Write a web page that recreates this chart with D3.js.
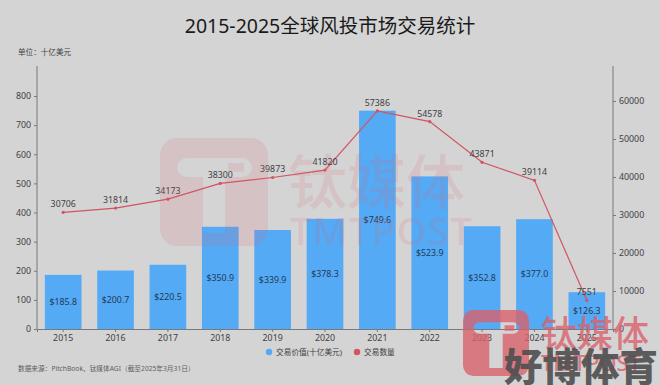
<!DOCTYPE html>
<html>
<head>
<meta charset="utf-8">
<script src="https://cdn.jsdelivr.net/npm/d3@7"></script>
<style>
    html, body { margin: 0; padding: 0; background: #d4d4d4; }
    text { font-family: "Noto Sans", "Noto Sans CJK SC", sans-serif; }
</style>
</head>
<body>
<div id="figure-holder"></div>
<script>
const years = ["2015", "2016", "2017", "2018", "2019", "2020", "2021", "2022", "2023", "2024", "2025"]
const dealValue = [185.8, 200.7, 220.5, 350.9, 339.9, 378.3, 749.6, 523.9, 352.8, 377.0, 126.3]
const dealCount = [30706, 31814, 34173, 38300, 39873, 41820, 57386, 54578, 43871, 39114, 7551]
const leftTicks = [0, 100, 200, 300, 400, 500, 600, 700, 800]
const rightTicks = [0, 10000, 20000, 30000, 40000, 50000, 60000]
const legendLabels = ["交易价值(十亿美元)", "交易数量"]

const barColor = "#55aaf5"
const lineColor = "#d2545f"
const axisColor = "#77797c"
const textColor = "#3f4144"
const markColor = "#d9626d"

const svg = d3.select("#figure-holder").append("svg")
    .attr("width", 660)
    .attr("height", 385)
    .style("display", "block")

const x = d3.scaleBand().domain(years).range([37, 613]).paddingInner(0.3).paddingOuter(0.15)
const yLeft = d3.scaleLinear().domain([0, 800]).range([329, 96])
const yRight = d3.scaleLinear().domain([0, 60000]).range([329, 101])

// title and notes
svg.append("text")
    .attr("x", 330).attr("y", 33)
    .attr("text-anchor", "middle")
    .style("font-size", "19.5px")
    .style("fill", "#1a1a1a")
    .text("2015-2025全球风投市场交易统计")

svg.append("text")
    .attr("x", 18).attr("y", 55)
    .style("font-size", "7.6px")
    .style("fill", textColor)
    .text("单位：十亿美元")

svg.append("text")
    .attr("x", 18).attr("y", 371)
    .style("font-size", "6.7px")
    .style("fill", "#5c5e61")
    .text("数据来源：PitchBook、钛媒体AGI（截至2025年3月31日）")

// bars
svg.selectAll("rect.bar")
    .data(years)
    .enter()
    .append("rect")
    .attr("class", "bar")
    .attr("x", d => x(d))
    .attr("y", (d, i) => yLeft(dealValue[i]))
    .attr("width", x.bandwidth())
    .attr("height", (d, i) => yLeft(0) - yLeft(dealValue[i]))
    .style("fill", barColor)

svg.selectAll("text.bar-label")
    .data(years)
    .enter()
    .append("text")
    .attr("class", "bar-label")
    .attr("x", d => x(d) + x.bandwidth() / 2)
    .attr("y", (d, i) => (yLeft(dealValue[i]) + yLeft(0)) / 2 + 3)
    .attr("text-anchor", "middle")
    .style("font-size", "8.8px")
    .style("fill", "#1f3a55")
    .text((d, i) => "$" + dealValue[i].toFixed(1))

// axes
const xAxis = svg.append("g")
    .attr("transform", `translate(0, ${yLeft(0)})`)
    .call(d3.axisBottom(x).tickSize(3).tickPadding(3))
const leftAxis = svg.append("g")
    .attr("transform", "translate(37, 0)")
    .call(d3.axisLeft(yLeft).tickValues(leftTicks).tickSize(3).tickPadding(3))
const rightAxis = svg.append("g")
    .attr("transform", "translate(613, 0)")
    .call(d3.axisRight(yRight).tickValues(rightTicks).tickFormat(d3.format("d")).tickSize(3).tickPadding(3))

leftAxis.select(".domain").attr("d", "M0,66V329")
rightAxis.select(".domain").attr("d", "M0,66V329")

;[xAxis, leftAxis, rightAxis].forEach(axis => {
    axis.selectAll("path, line").style("stroke", axisColor)
    axis.selectAll("text")
        .style("font-size", "8.8px")
        .style("font-family", '"Noto Sans", "Noto Sans CJK SC", sans-serif')
        .style("fill", textColor)
})

// line and its labels
const countLine = d3.line()
    .x((d, i) => x(years[i]) + x.bandwidth() / 2)
    .y(d => yRight(d))

svg.append("path")
    .datum(dealCount)
    .attr("d", countLine)
    .style("fill", "none")
    .style("stroke", lineColor)
    .style("stroke-width", 1.2)

svg.selectAll("circle.point")
    .data(dealCount)
    .enter()
    .append("circle")
    .attr("class", "point")
    .attr("cx", (d, i) => x(years[i]) + x.bandwidth() / 2)
    .attr("cy", d => yRight(d))
    .attr("r", 1.6)
    .style("fill", lineColor)

svg.selectAll("text.point-label")
    .data(dealCount)
    .enter()
    .append("text")
    .attr("class", "point-label")
    .attr("x", (d, i) => x(years[i]) + x.bandwidth() / 2)
    .attr("y", d => yRight(d) - 5)
    .attr("text-anchor", "middle")
    .style("font-size", "8.8px")
    .style("fill", textColor)
    .text(d => d)

// legend
const legend = svg.append("g").attr("transform", "translate(0, 352)")
legend.append("circle").attr("cx", 269).attr("r", 3.2).style("fill", barColor)
legend.append("text").attr("x", 276).attr("y", 3).style("font-size", "7.7px")
    .style("fill", textColor).text(legendLabels[0])
legend.append("circle").attr("cx", 357).attr("r", 3.2).style("fill", lineColor)
legend.append("text").attr("x", 364).attr("y", 3).style("font-size", "7.7px")
    .style("fill", textColor).text(legendLabels[1])

// watermarks
function drawLogo(g, size) {
    const s = size / 108
    const p = d3.path()
    p.moveTo(17 * s, 0)
    p.lineTo(91 * s, 0)
    p.arcTo(108 * s, 0, 108 * s, 17 * s, 17 * s)
    p.lineTo(108 * s, 91 * s)
    p.arcTo(108 * s, 108 * s, 91 * s, 108 * s, 17 * s)
    p.lineTo(17 * s, 108 * s)
    p.arcTo(0, 108 * s, 0, 91 * s, 17 * s)
    p.lineTo(0, 17 * s)
    p.arcTo(0, 0, 17 * s, 0, 17 * s)
    p.closePath()
    // the P cut out of the square, with its bowl left filled
    p.moveTo(27 * s, 20 * s)
    p.lineTo(82 * s, 20 * s)
    p.arcTo(92 * s, 20 * s, 92 * s, 30 * s, 10 * s)
    p.arcTo(92 * s, 39 * s, 82 * s, 39 * s, 10 * s)
    p.lineTo(65 * s, 39 * s)
    p.lineTo(65 * s, 95 * s)
    p.lineTo(43 * s, 95 * s)
    p.lineTo(43 * s, 39 * s)
    p.lineTo(27 * s, 39 * s)
    p.arcTo(17 * s, 39 * s, 17 * s, 30 * s, 10 * s)
    p.arcTo(17 * s, 20 * s, 27 * s, 20 * s, 10 * s)
    p.closePath()
    p.moveTo(68 * s, 25 * s)
    p.lineTo(84 * s, 25 * s)
    p.lineTo(84 * s, 34 * s)
    p.lineTo(68 * s, 34 * s)
    p.closePath()
    g.append("path")
        .attr("d", p.toString())
        .attr("fill-rule", "evenodd")
        .style("fill", markColor)
}

const bigMark = svg.append("g").style("opacity", 0.15)
drawLogo(bigMark.append("g").attr("transform", "translate(160, 138)"), 108)
bigMark.append("text").attr("x", 288).attr("y", 204)
    .style("font-size", "59px").style("font-weight", 500)
    .style("fill", markColor).text("钛媒体")
bigMark.append("text").attr("x", 290).attr("y", 245)
    .style("font-size", "38px").style("font-weight", 500)
    .style("letter-spacing", "1.5px")
    .style("fill", markColor).text("TMTPOST")

const smallMark = svg.append("g").style("opacity", 0.8)
drawLogo(smallMark.append("g").attr("transform", "translate(463, 310)"), 66)
smallMark.append("text").attr("x", 541).attr("y", 347)
    .style("font-size", "36px").style("font-weight", 500)
    .style("fill", markColor).text("钛媒体")
smallMark.append("text").attr("x", 541).attr("y", 371)
    .style("font-size", "22px").style("font-weight", 500)
    .style("fill", markColor).text("TMTPOST")

svg.append("text").attr("x", 504).attr("y", 381)
    .style("font-size", "38.5px").style("font-weight", 900)
    .style("fill", "#4f4f4f").style("fill-opacity", 0.92).text("好博体育")
</script>
</body>
</html>
